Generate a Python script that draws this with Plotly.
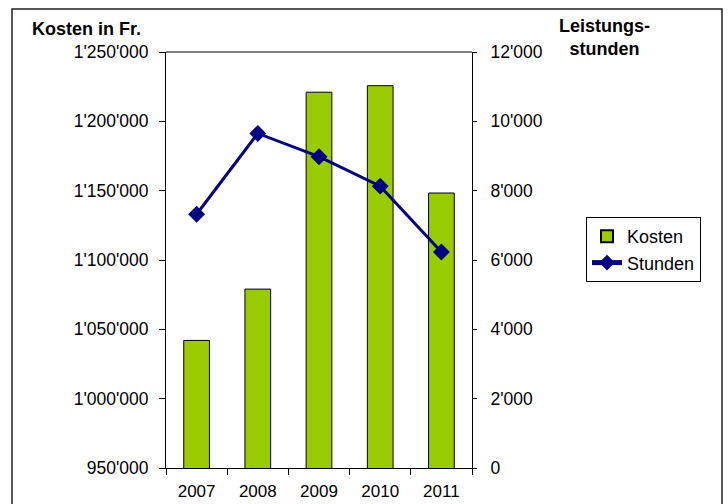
import plotly.graph_objects as go

years = ["2007", "2008", "2009", "2010", "2011"]
kosten = [1042000, 1079000, 1221000, 1225700, 1148300]
stunden = [7320, 9650, 8980, 8130, 6230]

left_ticks = [950000, 1000000, 1050000, 1100000, 1150000, 1200000, 1250000]
right_ticks = [0, 2000, 4000, 6000, 8000, 10000, 12000]

FONT = "Liberation Sans, Arial, sans-serif"
GREEN = "#99CC00"
NAVY = "#000080"

fig = go.Figure()
fig.add_trace(go.Bar(
    x=years, y=kosten, name="Kosten",
    marker=dict(color=GREEN, line=dict(color="black", width=1)),
    yaxis="y",
))
fig.add_trace(go.Scatter(
    x=years, y=stunden, name="Stunden", mode="lines+markers",
    line=dict(color=NAVY, width=3),
    marker=dict(symbol="diamond", size=13, color=NAVY),
    yaxis="y2",
))

# plot area in pixels: x 166..472, y 52..468
W, H = 728, 504
L, R, T, B = 166, 472, 52, 468

def px(x):
    return (x - L) / (R - L)

def py(y):
    return (B - y) / (B - T)

fig.update_layout(
    width=W, height=H,
    margin=dict(l=L, r=W - R, t=T, b=H - B, pad=0, autoexpand=False),
    paper_bgcolor="white", plot_bgcolor="white",
    separators=".'",
    font=dict(family=FONT, size=17.5, color="black"),
    bargap=0.58,
    showlegend=True,
    legend=dict(
        x=px(586), y=py(217), xanchor="left", yanchor="top",
        bordercolor="black", borderwidth=1, bgcolor="white",
        font=dict(family=FONT, size=18, color="black"),
        tracegroupgap=0, itemsizing="constant",
    ),
    xaxis=dict(
        showline=True, linecolor="black", linewidth=1,
        ticks="outside", ticklen=6, tickcolor="black",
        tickson="boundaries", showgrid=False, zeroline=False,
        tickfont=dict(family=FONT, size=17),
        ticklabelstandoff=8, automargin=False,
    ),
    yaxis=dict(
        range=[950000, 1250000], tickvals=left_ticks, tickformat=",d",
        showline=True, linecolor="black", linewidth=1,
        ticks="outside", ticklen=6, tickcolor="black",
        showgrid=False, zeroline=False,
        tickfont=dict(family=FONT, size=17.5),
        ticklabelstandoff=7, automargin=False,
    ),
    yaxis2=dict(
        range=[0, 12000], tickvals=right_ticks, tickformat=",d",
        overlaying="y", side="right",
        showline=True, linecolor="black", linewidth=1,
        ticks="outside", ticklen=4, tickcolor="black",
        showgrid=False, zeroline=False,
        tickfont=dict(family=FONT, size=17.5),
        ticklabelstandoff=10, automargin=False,
    ),
    shapes=[
        dict(type="line", xref="paper", yref="paper", x0=0, x1=1, y0=1, y1=1,
             line=dict(color="#808080", width=2)),
        dict(type="rect", xref="paper", yref="paper",
             x0=px(12), x1=px(722), y0=py(9), y1=py(515),
             line=dict(color="#202020", width=1.5), layer="below"),
    ],
    annotations=[
        dict(text="<b>Kosten in Fr.</b>", xref="paper", yref="paper",
             x=px(87), y=py(29), xanchor="center", yanchor="middle",
             showarrow=False, font=dict(family=FONT, size=18)),
        dict(text="<b>Leistungs-<br>stunden</b>", xref="paper", yref="paper",
             x=px(604), y=py(38), xanchor="center", yanchor="middle",
             showarrow=False, font=dict(family=FONT, size=18)),
    ],
)

fig.write_html(
    "out.html",
    config={"displayModeBar": False},
    post_script="document.body.style.margin='0';document.body.style.padding='0';",
)
